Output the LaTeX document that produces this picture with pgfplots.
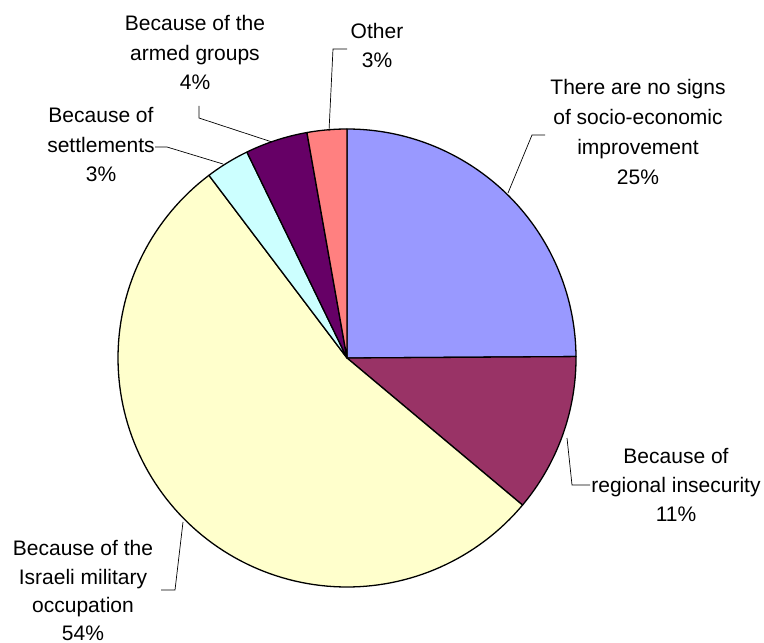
\documentclass[border=0pt]{standalone}
\usepackage{pgfplots}
\pgfplotsset{compat=1.18}
\usepackage{pgfplotstable}
\usepackage{fontspec}
\setmainfont{Liberation Sans}
\definecolor{slice0}{HTML}{9999FF}
\definecolor{slice1}{HTML}{993366}
\definecolor{slice2}{HTML}{FFFFCC}
\definecolor{slice3}{HTML}{CCFFFF}
\definecolor{slice4}{HTML}{660066}
\definecolor{slice5}{HTML}{FF8080}
\tikzset{lbl/.style={anchor=base,inner sep=0pt,font=\fontsize{21bp}{25bp}\selectfont}}
% share of answers, in per cent, clockwise from 12 o'clock
\pgfplotstableread{
idx value
0 24.9
1 11.2
2 53.6
3 3.1
4 4.4
5 2.8
}\piedata
\begin{document}
\begin{tikzpicture}
\begin{axis}[width=764bp,height=643bp,scale only axis,
  xmin=0,xmax=764,ymin=0,ymax=643,y dir=reverse,
  axis lines=none,clip=false]
\addplot[draw=none,forget plot] coordinates {(0,0) (764,643)};
\def\cum{0}
\pgfplotsforeachungrouped \i in {0,...,5}{%
  \pgfplotstablegetelem{\i}{value}\of\piedata
  \let\v=\pgfplotsretval
  \pgfmathsetmacro{\aS}{90-3.6*\cum}%
  \pgfmathsetmacro{\aE}{90-3.6*(\cum+\v)}%
  \edef\temp{\noexpand\addplot[fill=slice\i,draw=black,line width=1.3pt,line join=round,
     domain=\aE:\aS,samples=120,variable=\noexpand\t]
     ({347+229*cos(\noexpand\t)},{358-229*sin(\noexpand\t)}) -- (axis cs:347,358) -- cycle;}%
  \temp
  \pgfmathsetmacro{\cum}{\cum+\v}%
}
% leader lines
\addplot[black,line width=0.7pt] coordinates {(508,193) (532,135) (545,135)};
\addplot[black,line width=0.7pt] coordinates {(567,438) (572,485) (590,485)};
\addplot[black,line width=0.7pt] coordinates {(183,522) (175,590) (161,590)};
\addplot[black,line width=0.7pt] coordinates {(223,164) (167,147) (155,147)};
\addplot[black,line width=0.7pt] coordinates {(272,142) (199,118) (199,106)};
\addplot[black,line width=0.7pt] coordinates {(329,131) (333,49) (347,49)};
% labels
\node[lbl] at (axis cs:638,94) {There are no signs};
\node[lbl] at (axis cs:638,124) {of socio-economic};
\node[lbl] at (axis cs:638,154) {improvement};
\node[lbl] at (axis cs:638,184) {25\%};
\node[lbl] at (axis cs:676,463) {Because of};
\node[lbl] at (axis cs:676,492) {regional insecurity};
\node[lbl] at (axis cs:676,521) {11\%};
\node[lbl] at (axis cs:83,555) {Because of the};
\node[lbl] at (axis cs:83,584) {Israeli military};
\node[lbl] at (axis cs:83,612) {occupation};
\node[lbl] at (axis cs:83,640) {54\%};
\node[lbl] at (axis cs:101,122) {Because of};
\node[lbl] at (axis cs:101,152) {settlements};
\node[lbl] at (axis cs:101,181) {3\%};
\node[lbl] at (axis cs:195,31) {Because of the};
\node[lbl] at (axis cs:195,61) {armed groups};
\node[lbl] at (axis cs:195,90) {4\%};
\node[lbl] at (axis cs:377,39) {Other};
\node[lbl] at (axis cs:377,68) {3\%};
\end{axis}
\end{tikzpicture}
\end{document}
